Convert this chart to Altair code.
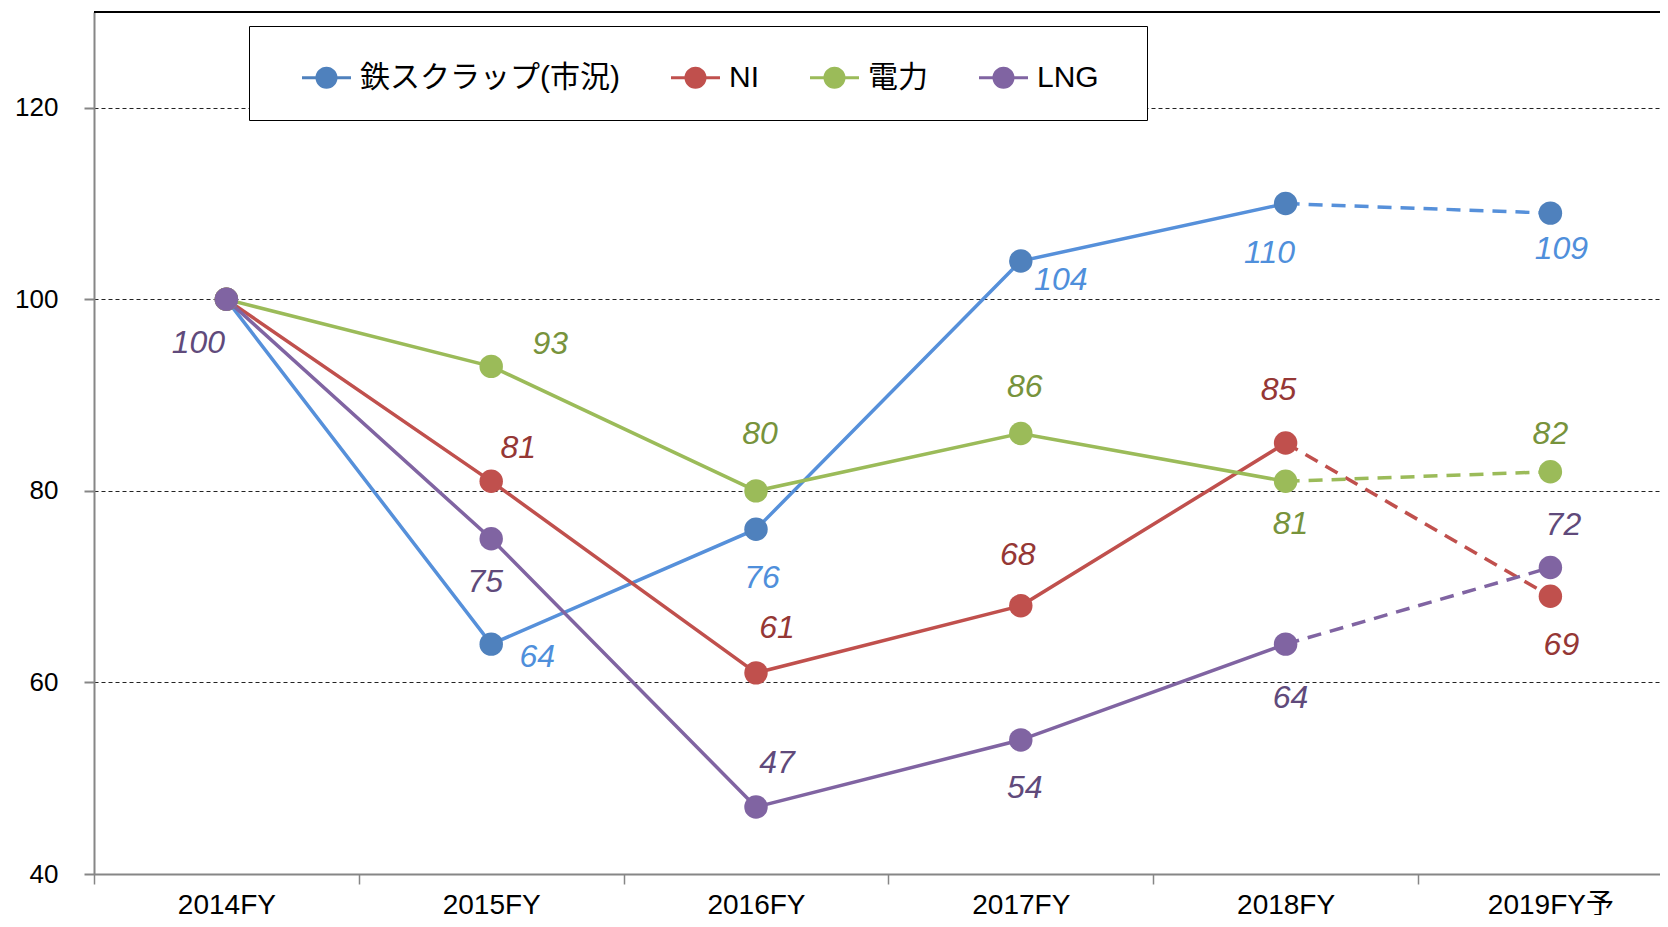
import altair as alt
import pandas as pd

# ---- data ----
years = ["2014FY", "2015FY", "2016FY", "2017FY", "2018FY", "2019FY予"]
series_names = ["鉄スクラップ(市況)", "NI", "電力", "LNG"]
scrap = [100, 64, 76, 104, 110, 109]
ni = [100, 81, 61, 68, 85, 69]
power = [100, 93, 80, 86, 81, 82]
lng = [100, 75, 47, 54, 64, 72]
values = [scrap, ni, power, lng]

# ---- styles ----
marker_colors = ["#4F81BD", "#C0504D", "#9BBB59", "#8064A2"]
line_colors = ["#5690DA", "#C0504D", "#9BBB59", "#8064A2"]
text_colors = ["#4F8FDB", "#953735", "#77933C", "#604A7B"]
# pixel offsets (dx, dy) of each data label from its point; None = no label
label_offsets = [
    [None, (46, 13), (6, 49), (40, 19), (-16, 49), (11, 36)],
    [None, (27, -33), (21, -45), (-3, -51), (-7, -53), (11, 49)],
    [None, (59, -22), (4, -57), (4, -46), (5, 43), (0, -38)],
    [(-28, 44), (-6, 43), (21, -44), (4, 48), (5, 54), (13, -43)],
]

rows = []
for si, name in enumerate(series_names):
    for i, y in enumerate(years):
        rows.append({
            "series": name, "year": y, "idx": i, "value": values[si][i],
            "key": f"{si}-{i}", "lcolor": line_colors[si], "tcolor": text_colors[si],
        })
df = pd.DataFrame(rows)

W, H = 1566, 862
band_total = 1588.8

x_enc = alt.X("year:N", sort=years,
              scale=alt.Scale(type="band", domain=years, range=[0, band_total],
                              paddingInner=0, paddingOuter=0),
              axis=alt.Axis(title=None, labelAngle=0, tickBand="extent", grid=False,
                            domainColor="#868686", domainWidth=2, tickColor="#868686",
                            tickSize=10, tickWidth=1.5, labelFont="Liberation Sans, Noto Sans CJK JP",
                            labelFontSize=28, labelColor="black", labelPadding=7))
y_enc = alt.Y("value:Q",
              scale=alt.Scale(domain=[40, 130], nice=False, zero=False),
              axis=alt.Axis(title=None, values=[40, 60, 80, 100, 120], grid=True,
                            gridColor="#222222", gridDash=[4, 3], gridWidth=1,
                            domainColor="#868686", domainWidth=2, tickColor="#868686",
                            tickSize=10, tickWidth=2, labelFont="Liberation Sans",
                            labelFontSize=26, labelColor="black", labelPadding=26))

base = alt.Chart(df)

top_border = base.mark_rule(color="black", strokeWidth=1).encode(y=alt.datum(130))

solid = base.mark_line(strokeWidth=3.5).encode(
    x=x_enc, y=y_enc,
    stroke=alt.Stroke("lcolor:N", scale=None),
    detail="series:N",
).transform_filter("datum.idx <= 4")

dashed = base.mark_line(strokeWidth=3.5, strokeDash=[14, 9]).encode(
    x=x_enc, y=y_enc,
    stroke=alt.Stroke("lcolor:N", scale=None),
    detail="series:N",
).transform_filter("datum.idx >= 4")

# legend symbol: a short line with a dot on it (filled shape)
legend_path = ("M-1,-0.065L1,-0.065L1,0.065L-1,0.065Z"
               "M0.45,0A0.45,0.45,0,1,1,-0.45,0A0.45,0.45,0,1,1,0.45,0Z")
points = base.mark_point(filled=True, size=550, opacity=1).encode(
    x=x_enc, y=y_enc,
    color=alt.Color("series:N", sort=series_names,
                    scale=alt.Scale(domain=series_names, range=marker_colors),
                    legend=alt.Legend(
                        title="\u00a0", titleOrient="right", titlePadding=21,
                        titleFontSize=1,
                        orient="none", legendX=155, legendY=14,
                        direction="horizontal", strokeColor="black", fillColor="white",
                        padding=27, symbolType=legend_path, symbolSize=2400,
                        symbolStrokeWidth=0, symbolOpacity=1,
                        labelFont="Liberation Sans, Noto Sans CJK JP",
                        labelFontSize=30, labelColor="black", labelOffset=9,
                        columnPadding=25, labelLimit=500, symbolOffset=26,
                    )),
    order="idx:Q",
)

text_layers = []
for si in range(len(series_names)):
    for i in range(len(years)):
        off = label_offsets[si][i]
        if off is None:
            continue
        t = base.mark_text(font="Liberation Sans", fontStyle="italic", fontSize=32,
                           align="center", baseline="middle", dx=off[0], dy=off[1]).encode(
            x=x_enc, y=y_enc,
            text=alt.Text("value:Q"),
            fill=alt.Fill("tcolor:N", scale=None),
        ).transform_filter(f"datum.key == '{si}-{i}'")
        text_layers.append(t)

chart = alt.layer(top_border, solid, dashed, points, *text_layers).properties(
    width=W, height=H,
    autosize=alt.AutoSizeParams(type="none"),
    padding={"left": 86, "top": 4, "right": 0, "bottom": 41},
).configure_view(stroke=None)

chart.save("out.html", embed_options={"renderer": "svg", "actions": False})
